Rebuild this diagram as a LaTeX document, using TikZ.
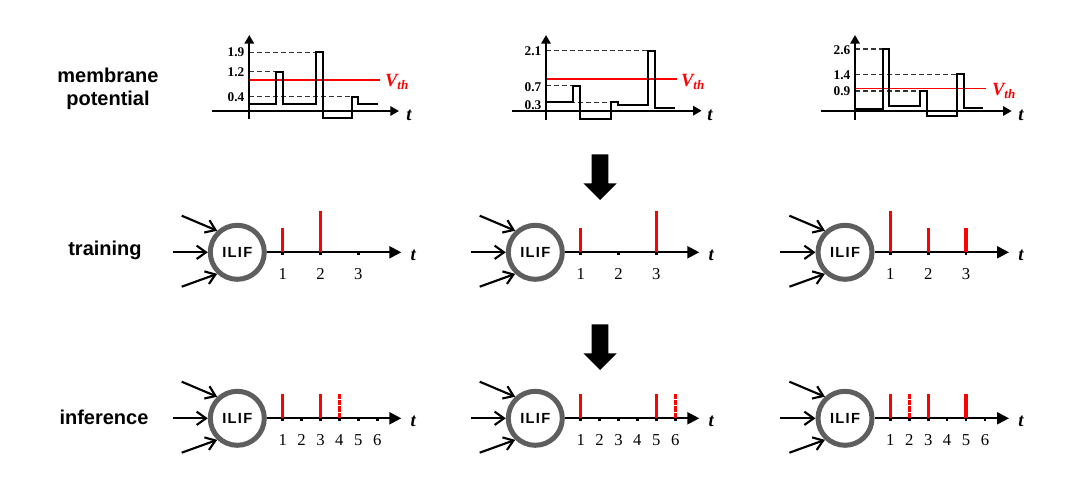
\documentclass[tikz,border=0pt]{standalone}
\usepackage{fontspec}
\setmainfont{Liberation Serif}
\setsansfont{Liberation Sans}
\usetikzlibrary{arrows.meta}
\definecolor{ringgray}{HTML}{5E5E5E}
\definecolor{spikered}{HTML}{FF0000}
\definecolor{dashgray}{HTML}{333333}

\tikzset{
  neuron/.style={circle,draw=ringgray,line width=3.75pt,minimum size=40.5pt,inner sep=0pt,
    font=\sffamily\bfseries\fontsize{11}{11}\selectfont\addfontfeature{LetterSpace=9}},
  inarrow/.style={line width=1.6pt,-{Straight Barb[length=7pt,width=10pt]}},
  timeaxis/.style={line width=1.6pt,-{Triangle[length=9pt,width=9pt]}},
  potaxis/.style={line width=1.6pt,-{Triangle[length=6.5pt,width=7pt]}},
  signal/.style={line width=1.5pt,line join=miter},
  level/.style={dashgray,line width=0.8pt,dash pattern=on 3.5pt off 2.5pt},
  vthline/.style={spikered,line width=1pt},
  spike/.style={spikered,line width=2.5pt},
  softspike/.style={spikered,line width=2.5pt,dash pattern=on 4pt off 0.9pt},
  rowlabel/.style={font=\sffamily\bfseries\fontsize{15}{17}\selectfont,align=center},
  levellabel/.style={anchor=east,inner sep=1pt,font=\bfseries\fontsize{10}{10}\selectfont},
  ticknum/.style={font=\fontsize{12.5}{12.5}\selectfont},
  tlabel/.style={font=\bfseries\itshape\fontsize{14}{14}\selectfont},
  vthlabel/.style={spikered,font=\bfseries\itshape\fontsize{14}{14}\selectfont}
}

\begin{document}
\begin{tikzpicture}[x=0.75pt,y=-0.75pt]
    \useasboundingbox (0,0) rectangle (1080,488);
    \node[rowlabel] (lab-mp) at (108,89) {membrane\\potential};
    \node[rowlabel] (lab-tr) at (105,250) {training};
    \node[rowlabel] (lab-in) at (104,417) {inference};

    \draw[vthline] (249.3,80) -- (380,80);
    \draw[level] (249.3,52.3) -- (315.7,52.3);
    \draw[level] (249.3,71.7) -- (276,71.7);
    \draw[level] (249.3,96.7) -- (351.7,96.7);
    \draw[potaxis] (249.3,119) -- (249.3,35);
    \draw[potaxis] (212,111) -- (399,111);
    \draw[signal] (249.3,104) -- (276,104) -- (276,71.7) -- (282.7,71.7) -- (282.7,104)
      -- (315.7,104) -- (315.7,52.3) -- (323.3,52.3) -- (323.3,118.3) -- (351.7,118.3)
      -- (351.7,96.7) -- (358.3,96.7) -- (358.3,104) -- (378.3,104);
    \node[levellabel] (v1-a) at (246,52.3) {1.9};
    \node[levellabel] (v1-b) at (246,71.7) {1.2};
    \node[levellabel] (v1-c) at (246,97.5) {0.4};
    \node[vthlabel] (vth-1) at (397,82) {V\textsubscript{th}};
    \node[tlabel] (t-1) at (409,115) {t};

    \draw[vthline] (546,79) -- (677,79);
    \draw[level] (546,50.7) -- (648.3,50.7);
    \draw[level] (546,85.7) -- (573.3,85.7);
    \draw[level] (546,102.3) -- (610.7,102.3);
    \draw[potaxis] (546,120) -- (546,35);
    \draw[potaxis] (511.7,110.7) -- (701.7,110.7);
    \draw[signal] (546,102.3) -- (573.3,102.3) -- (573.3,85.7) -- (580,85.7) -- (580,119.3)
      -- (610.7,119.3) -- (610.7,101.7) -- (618.3,101.7) -- (618.3,105) -- (648.3,105)
      -- (648.3,50.7) -- (655,50.7) -- (655,108) -- (675,108);
    \node[levellabel] (v2-a) at (543,50.7) {2.1};
    \node[levellabel] (v2-b) at (543,87.5) {0.7};
    \node[levellabel] (v2-c) at (543,105.5) {0.3};
    \node[vthlabel] (vth-2) at (693,82) {V\textsubscript{th}};
    \node[tlabel] (t-2) at (710,115) {t};

    \draw[vthline] (855,88.3) -- (986,88.3);
    \draw[level] (855,49) -- (882.7,49);
    \draw[level] (855,74.3) -- (957.3,74.3);
    \draw[level] (855,91) -- (920,91);
    \draw[potaxis] (855,120) -- (855,35);
    \draw[potaxis] (820.7,111) -- (1011.7,111);
    \draw[signal] (855,109) -- (882.7,109) -- (882.7,49) -- (889.3,49) -- (889.3,106)
      -- (920,106) -- (920,91) -- (926.7,91) -- (926.7,115.7) -- (957.3,115.7)
      -- (957.3,74.3) -- (964,74.3) -- (964,108.3) -- (983.3,108.3);
    \node[levellabel] (v3-a) at (852,50.5) {2.6};
    \node[levellabel] (v3-b) at (852,75) {1.4};
    \node[levellabel] (v3-c) at (852,91.5) {0.9};
    \node[vthlabel] (vth-3) at (1004,91) {V\textsubscript{th}};
    \node[tlabel] (t-3) at (1021,115) {t};

    \foreach \dy in {0,170} {
      \fill[black,yshift=-0.75*\dy] (591.7,154.3) -- (608.3,154.3) -- (608.3,183.3) -- (616.7,183.3)
        -- (600,200) -- (583.3,183.3) -- (591.7,183.3) -- cycle;
    }

    \foreach \cx/\nm/\cy/\stp/\last in {237.3/tra/252.3/37.8/3,535.3/trb/252.3/37.8/3,845/trc/252.3/37.8/3,
        237.3/ina/418.3/18.9/6,535.3/inb/418.3/18.9/6,845/inc/418.3/18.9/6} {
      \node[neuron] (\nm) at (\cx,\cy) {ILIF};
      \coordinate (\nm-i1) at (\cx-55.6,\cy-36.6);
      \coordinate (\nm-i2) at (\cx-64.6,\cy);
      \coordinate (\nm-i3) at (\cx-55.6,\cy+34.4);
      \coordinate (\nm-end) at (\cx+164,\cy);
      \draw[inarrow] (\nm-i1) -- (\nm.133);
      \draw[inarrow] (\nm-i2) -- (\nm.west);
      \draw[inarrow] (\nm-i3) -- (\nm.227);
      \draw[timeaxis] (\nm) -- (\nm-end);
      \node[tlabel] (\nm-t) at (\cx+176,\cy+3) {t};
      \foreach \k in {1,...,\last} {
        \draw[line width=2pt] ({\cx+45.4+\stp*(\k-1)},\cy) -- ({\cx+45.4+\stp*(\k-1)},\cy+2.5);
        \node[ticknum] (\nm-k\k) at ({\cx+45.4+\stp*(\k-1)},\cy+22) {\k};
      }
    }

    \foreach \cx/\k/\h in {237.3/1/24,237.3/2/41,535.3/1/24,535.3/3/41,845/1/41,845/2/24,845/3/24} {
      \draw[spike] ({\cx+45.4+37.8*(\k-1)},252.3) -- ++(0,-\h);
    }
    \foreach \cx/\k in {237.3/1,237.3/3,535.3/1,535.3/5,845/1,845/3,845/5} {
      \draw[spike] ({\cx+45.4+18.9*(\k-1)},418.3) -- ++(0,-24);
    }
    \foreach \cx/\k in {237.3/4,535.3/6,845/2} {
      \draw[softspike] ({\cx+45.4+18.9*(\k-1)},418.3) -- ++(0,-24);
    }
  \end{tikzpicture}
\end{document}
